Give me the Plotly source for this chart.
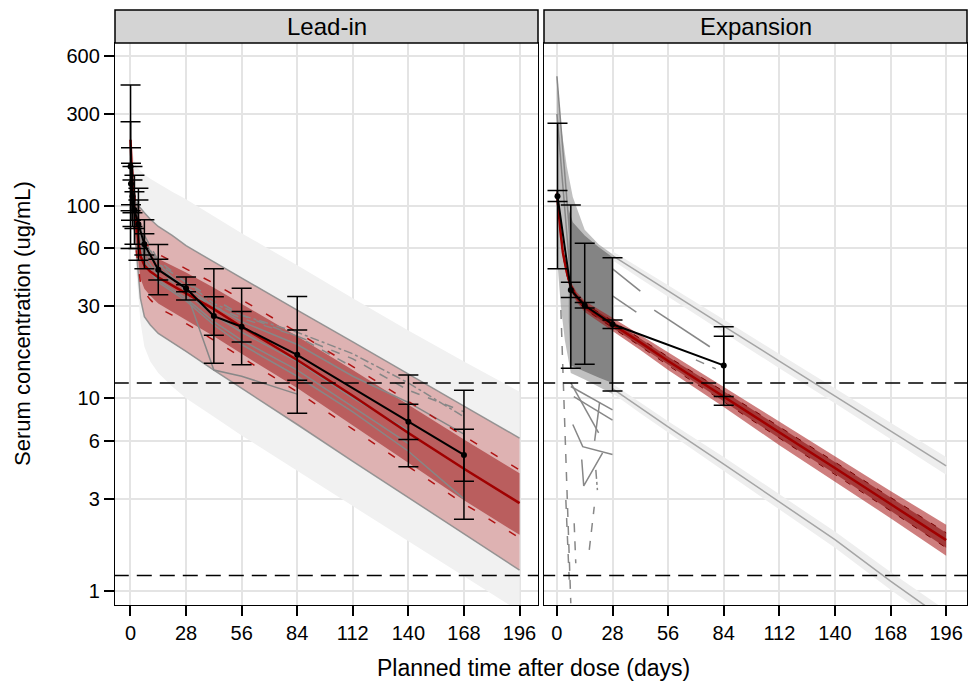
import plotly.graph_objects as go

# ---------------- data ----------------
y_ticks = [1, 3, 6, 10, 30, 60, 100, 300, 600]
y_tick_text = ["1", "3", "6", "10", "30", "60", "100", "300", "600"]
x_ticks = [0, 28, 56, 84, 112, 140, 168, 196]
thresholds = [12, 1.2]
panels = ["Lead-in", "Expansion"]

# Lead-in: simulated prediction bands
lead_days = [0, 0.5, 1, 2, 3, 5, 7, 10, 14, 21, 28, 42, 56, 84, 112, 140, 168, 196]
lead_outer_hi = [250, 215, 190, 170, 160, 152, 145, 138, 130, 118, 108, 88, 72, 49, 33, 22.5, 15.5, 10.8]
lead_outer_lo = [150, 120, 95, 60, 42, 25, 18.5, 15.5, 13.5, 11.5, 10, 8.0, 6.4, 4.2, 2.75, 1.8, 1.19, 0.78]
lead_median = [220, 165, 130, 95, 78, 55, 49, 45.5, 42.5, 38.5, 35, 29, 23.5, 15.8, 10.3, 6.6, 4.3, 2.85]

lead_pi_days = [1, 2, 3, 5, 7, 10, 14, 21, 28, 42, 56, 84, 112, 140, 168, 196]
lead_pi_hi = [118, 108, 103, 97, 92, 85, 78, 70, 62, 51, 42, 28.7, 19.6, 13.3, 9.1, 6.2]
lead_pi_lo = [100, 75, 55, 33, 26.5, 24, 21.7, 19.5, 17.5, 14, 11.3, 7.3, 4.7, 3.04, 1.97, 1.28]
lead_ci_hi = [150, 112, 95, 70, 62, 57, 53, 49, 45, 37.5, 31, 21, 14, 9.2, 6.1, 4.07]
lead_ci_lo = [108, 76, 60, 42, 37, 34, 31, 28, 25.5, 21, 17, 11.3, 7.2, 4.6, 2.95, 1.95]
lead_pct_hi = [155, 116, 98, 73, 65, 60, 56, 51.5, 47, 39.5, 32.5, 22, 14.6, 9.6, 6.35, 4.24]
lead_pct_lo = [104, 72, 57, 40, 35.5, 32.5, 29.5, 27, 24.5, 20, 16.3, 10.8, 6.9, 4.4, 2.83, 1.88]

# Lead-in: observed individual profiles
lead_ind_days = [1, 7, 14, 28, 42, 56, 84, 112, 140, 168]
lead_ind = [
    ([120, 60, 47, 38, 30, 25, 19, 13, 9.5, 6.5], "solid"),
    ([105, 55, 43, 35, 27, 22, 15.5, 10, 6.8, None], "solid"),
    ([None, 70, 52, 40, 33, 27, 21, 14.5, None, None], "dash"),
    ([98, 50, 40, 32, 24, 19, 13, 8.5, 5.3, 3.0], "solid"),
    ([115, 65, 50, 36, 14, 13, 10.5, None, None, None], "solid"),
    ([None, 58, 45, 36, 30, 26, 21, 16, 11, 8.5], "dash"),
    ([None, 52, 41, 33, 25, 20, 14, 9, 5.8, None], "solid"),
    ([None, 66, 50, 40, 31, 27, 22, 17, 12, 8], "dashdot"),
]

# Lead-in: observed mean with variability bars
lead_obs_days = [0.04, 0.25, 1, 2, 4, 7, 14, 28, 42, 56, 84, 140, 168]
lead_obs_mean = [160, 130, 112, 95, 80, 63, 46.5, 37.2, 26.7, 23.5, 16.8, 7.55, 5.07]
lead_obs_sd_hi = [424, 200, 160, 144, 123, 84.5, 62.8, 42.6, 47, 37.2, 33.7, 13.2, 11.0]
lead_obs_sd_lo = [60, 84, 78, 63, 52, 47, 34.5, 32.4, 15.2, 14.9, 8.35, 4.4, 2.35]
lead_obs_ci_hi = [273, 166, 136, 118, 107, 71.5, 52.7, 38.8, 33.6, 28.2, 22.6, 9.3, 6.9]
lead_obs_ci_lo = [94, 101, 92, 76, 60, 55.5, 41.1, 35.7, 21.2, 19.6, 12.4, 6.1, 3.7]

# Expansion: simulated median band
exp_days = [0, 0.5, 1, 2, 3, 5, 7, 10, 14, 21, 28, 42, 56, 84, 112, 140, 168, 196]
exp_median = [116, 100, 88, 70, 57, 45, 38, 33.5, 30, 27, 24.2, 19.5, 15.6, 10.2, 6.65, 4.34, 2.82, 1.83]
exp_band_hi = [121, 105, 92.5, 73.5, 60, 47.5, 40, 35.5, 32, 29, 26.2, 21.3, 17.3, 11.5, 7.6, 5.0, 3.3, 2.2]
exp_band_lo = [111, 95, 83.5, 66.5, 54, 42.5, 36, 31.5, 28, 25, 22.3, 17.8, 14.0, 9.0, 5.7, 3.7, 2.38, 1.52]
exp_core_hi = [118.5, 102.5, 90, 71.8, 58.5, 46.2, 39, 34.5, 31, 28, 25.2, 20.4, 16.4, 10.85, 7.1, 4.65, 3.05, 2.0]
exp_core_lo = [113.5, 97.5, 86, 68.2, 55.5, 43.8, 37, 32.5, 29, 26, 23.2, 18.6, 14.8, 9.6, 6.2, 4.05, 2.6, 1.67]

# Expansion: simulated percentile lines (from day 28)
exp_pct_days = [28, 42, 56, 84, 112, 140, 168, 196]
exp_p95 = [55, 44.5, 36, 23.7, 15.6, 10.3, 6.8, 4.45]
exp_p95_hi = [58, 47.5, 38.6, 25.6, 17.0, 11.3, 7.5, 4.95]
exp_p95_lo = [52, 41.7, 33.6, 21.9, 14.3, 9.4, 6.15, 4.0]
exp_p05 = [11.2, 8.9, 7.1, 4.55, 2.9, 1.84, 1.12, 0.70]
exp_p05_hi = [11.9, 9.5, 7.6, 4.95, 3.18, 2.03, 1.25, 0.79]
exp_p05_lo = [10.6, 8.35, 6.6, 4.2, 2.65, 1.67, 1.01, 0.63]

# Expansion: observed individual profiles (dense cloud + distinct lines)
exp_fan_days = [0, 1, 2, 3.5, 5, 8, 14, 21, 28, 28, 21, 14, 7, 4, 2, 0.5, 0]
exp_fan_vals = [470, 330, 260, 205, 160, 111, 75, 63, 56, 10.5, 11.5, 12.5, 13.5, 20, 30, 45, 55]
exp_mass_days = [6, 8, 14, 21, 28, 28, 21, 14, 7, 6]
exp_mass_vals = [95, 82, 70, 61, 54, 12, 12.8, 13.8, 14.8, 25]
exp_ind = [
    ([28, 42], [47, 36], "solid"),
    ([49, 77], [28.7, 18.5], "solid"),
    ([28, 40], [34, 28], "solid"),
    ([70, 80], [15.8, 14.2], "dash"),
    ([8, 13, 28], [7.3, 5.6, 5.1], "solid"),
    ([12.5, 13.5, 23], [4.8, 3.5, 5.2], "solid"),
    ([7, 28], [11.5, 8.7], "solid"),
    ([8.5, 28], [10.2, 7.7], "solid"),
    ([7, 21], [12, 6.6], "solid"),
    ([21.5, 19], [9.5, 6.0], "solid"),
    ([2, 7], [28.7, 0.86], "dash"),
    ([4.5, 6.2], [2.96, 1.14], "dash"),
    ([8.7, 9.5], [2.24, 1.39], "dash"),
    ([16.3, 18.8], [1.63, 2.73], "dash"),
    ([19.6, 20.4], [4.24, 3.33], "dashdot"),
    ([0, 7], [470, 60], "solid"),
    ([0, 7], [300, 40], "solid"),
]

# Expansion: observed mean with variability bars
exp_obs_days = [0.3, 7, 14, 28, 84]
exp_obs_mean = [112, 36.5, 30.3, 24.2, 14.8]
exp_obs_sd_hi = [268, 100.7, 63.8, 53.7, 23.5]
exp_obs_sd_lo = [47, 14.3, 15, 10.9, 9.2]
exp_obs_ci_hi = [120, 40, 31.4, 25.5, 21]
exp_obs_ci_lo = [105, 33.3, 29.4, 23, 10.2]

# ---------------- figure ----------------
fig = go.Figure()
GREY_LINE = "rgb(135,135,135)"


def add_band(xs, hi, lo, color, xa, ya):
    fig.add_trace(go.Scatter(
        x=list(xs) + list(xs)[::-1], y=list(hi) + list(lo)[::-1],
        fill="toself", fillcolor=color, mode="lines", line=dict(width=0),
        xaxis=xa, yaxis=ya, hoverinfo="skip", showlegend=False))


def add_line(xs, ys, color, width, dash, xa, ya):
    fig.add_trace(go.Scatter(
        x=xs, y=ys, mode="lines", line=dict(color=color, width=width, dash=dash),
        connectgaps=False, xaxis=xa, yaxis=ya, hoverinfo="skip", showlegend=False))


def add_obs(days, mean, sd_hi, sd_lo, ci_hi, ci_lo, xa, ya):
    fig.add_trace(go.Scatter(
        x=days, y=mean, mode="markers",
        marker=dict(size=1, color="rgba(0,0,0,0)"),
        error_y=dict(type="data", symmetric=False,
                     array=[h - m for h, m in zip(ci_hi, mean)],
                     arrayminus=[m - l for l, m in zip(ci_lo, mean)],
                     color="black", thickness=1.5, width=10),
        xaxis=xa, yaxis=ya, hoverinfo="skip", showlegend=False))
    fig.add_trace(go.Scatter(
        x=days, y=mean, mode="lines+markers",
        line=dict(color="black", width=2),
        marker=dict(size=6, color="black"),
        error_y=dict(type="data", symmetric=False,
                     array=[h - m for h, m in zip(sd_hi, mean)],
                     arrayminus=[m - l for l, m in zip(sd_lo, mean)],
                     color="black", thickness=1.5, width=10),
        xaxis=xa, yaxis=ya, hoverinfo="skip", showlegend=False))


# ---- Lead-in panel ----
add_band(lead_days, lead_outer_hi, lead_outer_lo, "rgb(241,241,241)", "x", "y")
add_band(lead_pi_days, lead_pi_hi, lead_pi_lo, "rgba(178,34,34,0.30)", "x", "y")
add_line(lead_pi_days, lead_pi_hi, "rgba(140,140,140,0.9)", 1.5, "solid", "x", "y")
add_line(lead_pi_days, lead_pi_lo, "rgba(140,140,140,0.9)", 1.5, "solid", "x", "y")
add_band(lead_pi_days, lead_ci_hi, lead_ci_lo, "rgba(150,10,10,0.5)", "x", "y")
for vals, dash in lead_ind:
    add_line(lead_ind_days, vals, GREY_LINE, 1.5, dash, "x", "y")
add_line(lead_pi_days, lead_pct_hi, "rgb(175,20,20)", 1.5, "8px,16px", "x", "y")
add_line(lead_pi_days, lead_pct_lo, "rgb(175,20,20)", 1.5, "8px,16px", "x", "y")
add_line(lead_days, lead_median, "rgb(160,0,0)", 2.5, "solid", "x", "y")
add_obs(lead_obs_days, lead_obs_mean, lead_obs_sd_hi, lead_obs_sd_lo,
        lead_obs_ci_hi, lead_obs_ci_lo, "x", "y")

# ---- Expansion panel ----
add_band(exp_pct_days, exp_p95_hi, exp_p95_lo, "rgb(238,238,238)", "x2", "y2")
add_band(exp_pct_days, exp_p05_hi, exp_p05_lo, "rgb(238,238,238)", "x2", "y2")
add_line(exp_pct_days, exp_p95, "rgb(165,165,165)", 1.5, "solid", "x2", "y2")
add_line(exp_pct_days, exp_p05, "rgb(165,165,165)", 1.5, "solid", "x2", "y2")
fig.add_trace(go.Scatter(x=exp_fan_days, y=exp_fan_vals, fill="toself",
                         fillcolor="rgba(140,140,140,0.55)", mode="lines", line=dict(width=0),
                         xaxis="x2", yaxis="y2", hoverinfo="skip", showlegend=False))
fig.add_trace(go.Scatter(x=exp_mass_days, y=exp_mass_vals, fill="toself",
                         fillcolor="rgb(132,132,132)", mode="lines", line=dict(width=0),
                         xaxis="x2", yaxis="y2", hoverinfo="skip", showlegend=False))
for xs, ys, dash in exp_ind:
    add_line(xs, ys, GREY_LINE, 1.5, dash, "x2", "y2")
add_band(exp_days, exp_band_hi, exp_band_lo, "rgba(165,20,20,0.55)", "x2", "y2")
add_band(exp_days, exp_core_hi, exp_core_lo, "rgba(130,0,0,0.55)", "x2", "y2")
add_line(exp_days, exp_core_hi, "rgb(120,0,0)", 1, "6px,10px", "x2", "y2")
add_line(exp_days, exp_core_lo, "rgb(120,0,0)", 1, "6px,10px", "x2", "y2")
add_line(exp_days, exp_median, "rgb(160,0,0)", 2.5, "solid", "x2", "y2")
add_obs(exp_obs_days, exp_obs_mean, exp_obs_sd_hi, exp_obs_sd_lo,
        exp_obs_ci_hi, exp_obs_ci_lo, "x2", "y2")

# ---- threshold lines ----
for t in thresholds:
    for xa, ya in (("x", "y"), ("x2", "y2")):
        add_line([-20, 220], [t, t], "black", 1.5, "15px,8px", xa, ya)

# ---------------- layout ----------------
W, H = 969, 686
ML, MR, MT, MB = 115, 2, 43, 81
PW = W - ML - MR
PH = H - MT - MB
PANEL = 423
GAP = 6
d1 = [0, PANEL / PW]
d2 = [(PANEL + GAP) / PW, 1]
FONT = "Liberation Sans, Arial, sans-serif"

xcommon = dict(tickvals=x_ticks, ticks="outside", ticklen=10, tickwidth=1.5,
               tickcolor="black", showline=True, mirror=True, linecolor="black",
               linewidth=1.3, showgrid=True, gridcolor="rgb(228,228,228)", gridwidth=1.5,
               zeroline=False, tickfont=dict(size=20, color="black", family=FONT))
ycommon = dict(type="log", range=[-0.0743, 2.845], tickvals=y_ticks,
               showline=True, mirror=True, linecolor="black", linewidth=1.3,
               showgrid=True, gridcolor="rgb(228,228,228)", gridwidth=1.5,
               zeroline=False)

strip_h = 33 / PH
shapes = []
annotations = []
for dom, name in ((d1, panels[0]), (d2, panels[1])):
    shapes.append(dict(type="rect", xref="paper", yref="paper", x0=dom[0], x1=dom[1],
                       y0=1, y1=1 + strip_h, fillcolor="rgb(212,212,212)",
                       line=dict(color="black", width=1.5), layer="above"))
    annotations.append(dict(text=name, xref="paper", yref="paper",
                            x=(dom[0] + dom[1]) / 2, y=1 + strip_h / 2,
                            xanchor="center", yanchor="middle", showarrow=False,
                            font=dict(size=24, color="black", family=FONT)))
annotations.append(dict(text="Serum concentration (ug/mL)", xref="paper", yref="paper",
                        x=(22 - ML) / PW, y=0.5, textangle=-90, showarrow=False,
                        xanchor="center", yanchor="middle",
                        font=dict(size=22, color="black", family=FONT)))
annotations.append(dict(text="Planned time after dose (days)", xref="paper", yref="paper",
                        x=(533 - ML) / PW, y=-(668 - (MT + PH)) / PH, showarrow=False,
                        xanchor="center", yanchor="middle",
                        font=dict(size=23, color="black", family=FONT)))

fig.update_layout(
    width=W, height=H, margin=dict(l=ML, r=MR, t=MT, b=MB),
    paper_bgcolor="white", plot_bgcolor="white", showlegend=False,
    font=dict(family=FONT, color="black"),
    xaxis=dict(domain=d1, range=[-7.8, 205.3], anchor="y", **xcommon),
    xaxis2=dict(domain=d2, range=[-6.5, 206.5], anchor="y2", **xcommon),
    yaxis=dict(anchor="x", ticks="outside", ticklen=10, tickwidth=1.5, tickcolor="black",
               ticktext=y_tick_text,
               tickfont=dict(size=20, color="black", family=FONT), **ycommon),
    yaxis2=dict(anchor="x2", matches="y", showticklabels=False, ticks="", **ycommon),
    shapes=shapes, annotations=annotations,
)

fig.write_html("out.html", config={"displayModeBar": False},
               post_script="document.body.style.margin='0';document.body.style.overflow='hidden';")
